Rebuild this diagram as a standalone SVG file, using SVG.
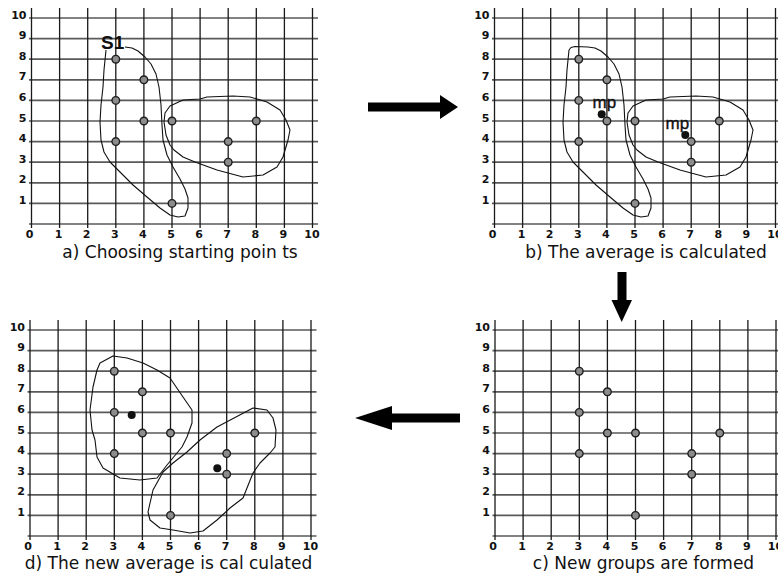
<svg xmlns="http://www.w3.org/2000/svg" xmlns:xlink="http://www.w3.org/1999/xlink" width="778" height="578" viewBox="0 0 778 578">
<style>
.hl{stroke:#5a5a5a;stroke-width:1.7;fill:none}
.vl{stroke:#1a1a1a;stroke-width:1.3;fill:none}
.num{font-family:"DejaVu Sans",Verdana,sans-serif;font-size:11px;font-weight:bold;fill:#111}
.cap{font-family:"DejaVu Sans",Verdana,sans-serif;font-size:17px;fill:#111;text-anchor:middle}
.lbl{font-family:"Liberation Sans",Arial,sans-serif;fill:#111}
.pt{fill:#8c8c8c;stroke:#1e1e1e;stroke-width:1.4}
.mean{fill:#111}
.curve{fill:none;stroke:#111;stroke-width:1.1;stroke-linejoin:round}
.arrow{fill:#000}
</style>
<defs>
<g id="grid">
<path class="hl" d="M29,224H318M29,203.4H318M29,182.8H318M29,162.2H318M29,141.6H318M29,121H318M29,100.4H318M29,79.8H318M29,59.2H318M29,38.6H318M29,18H318"/>
<path class="vl" d="M31.5,8V228M59.6,8V228M87.7,8V228M115.8,8V228M143.9,8V228M172,8V228M200.1,8V228M228.2,8V228M256.3,8V228M284.4,8V228M312.5,8V228"/>
<g class="num" text-anchor="end">
<text x="26.5" y="204">1</text><text x="26.5" y="183.3">2</text><text x="26.5" y="162.7">3</text><text x="26.5" y="142.1">4</text><text x="26.5" y="121.5">5</text><text x="26.5" y="100.9">6</text><text x="26.5" y="80.3">7</text><text x="26.5" y="59.7">8</text><text x="26.5" y="39.1">9</text><text x="26.5" y="18.5">10</text>
</g>
<g class="num" text-anchor="middle">
<text x="29.5" y="237.5">0</text><text x="58.6" y="237.5">1</text><text x="86.7" y="237.5">2</text><text x="114.8" y="237.5">3</text><text x="142.9" y="237.5">4</text><text x="171" y="237.5">5</text><text x="199.1" y="237.5">6</text><text x="227.2" y="237.5">7</text><text x="255.3" y="237.5">8</text><text x="283.4" y="237.5">9</text><text x="312" y="237.5">10</text>
</g>
</g>
<g id="pts">
<circle class="pt" cx="115.8" cy="59.2" r="3.8"/>
<circle class="pt" cx="143.9" cy="79.8" r="3.8"/>
<circle class="pt" cx="115.8" cy="100.4" r="3.8"/>
<circle class="pt" cx="143.9" cy="121" r="3.8"/>
<circle class="pt" cx="172" cy="121" r="3.8"/>
<circle class="pt" cx="256.3" cy="121" r="3.8"/>
<circle class="pt" cx="115.8" cy="141.6" r="3.8"/>
<circle class="pt" cx="228.2" cy="141.6" r="3.8"/>
<circle class="pt" cx="228.2" cy="162.2" r="3.8"/>
<circle class="pt" cx="172" cy="203.4" r="3.8"/>
</g>
<path id="c1open" d="M106,50 L104,70 103,87 101,105 100,122 101,140 104,152 110,162 120,172 133,185 147,197 160,208 170,215 178,217 185,216 188,208 188,198 185,189 180,179 173,167 167,155 163,140 162,125 161,105 159,87 156,74 151,64 145,57 138,51 132,48 125,47"/>
<path id="c2" d="M165,113 L170,106 183,100 200,99 207,97 233,96 250,97 267,102 280,110 286,120 290,130 288,140 283,157 277,167 263,175 243,177 217,170 195,162 183,157 174,150 170,145 166,135 164,122 Z"/>
</defs>

<g id="panel-a">
<use xlink:href="#grid"/>
<use xlink:href="#c1open" class="curve"/>
<use xlink:href="#c2" class="curve"/>
<use xlink:href="#pts"/>
<text class="lbl" x="101" y="49" font-size="19" font-weight="bold">S1</text>
<text class="cap" x="180" y="258">a) Choosing starting poin ts</text>
</g>

<g id="panel-b">
<use xlink:href="#grid" transform="translate(463,0)"/>
<g transform="translate(463,0)">
<use xlink:href="#c1open" class="curve"/>
<path class="curve" d="M125,47 L112,46.5 108,47.5 106,50"/>
<use xlink:href="#c2" class="curve"/>
<use xlink:href="#pts"/>
</g>
<text class="lbl" x="592.5" y="108" font-size="17" stroke="#111" stroke-width="0.35">mp</text>
<circle class="mean" cx="601.7" cy="114.3" r="4"/>
<text class="lbl" x="665.5" y="129" font-size="17" stroke="#111" stroke-width="0.35">mp</text>
<circle class="mean" cx="685.3" cy="135" r="4"/>
<text class="cap" x="646" y="258">b) The average is calculated</text>
</g>

<g id="panel-c">
<use xlink:href="#grid" transform="translate(463.5,312)"/>
<use xlink:href="#pts" transform="translate(463.5,312)"/>
<text class="cap" x="643.5" y="569">c) New groups are formed</text>
</g>

<g id="panel-d">
<use xlink:href="#grid" transform="translate(-1.5,312)"/>
<path class="curve" d="M113,356 L127,358 143,363 157,370 170,378 183,397 192,410 192,423 187,437 182,447 177,453 167,465 157,478 140,480 120,478 103,468 97,457 95,440 92,430 90,410 93,387 97,370 100,363 Z"/>
<path class="curve" d="M253,408 L267,410 273,418 276,430 275,447 270,453 260,463 253,473 243,498 230,508 217,520 203,531 190,533 173,530 160,528 150,520 148,512 153,490 163,472 173,463 187,452 200,440 217,427 Z"/>
<use xlink:href="#pts" transform="translate(-1.5,312)"/>
<circle class="mean" cx="131.7" cy="415" r="4"/>
<circle class="mean" cx="217.3" cy="468.3" r="4"/>
<text class="cap" x="168.5" y="569">d) The new average is cal culated</text>
</g>

<g id="connectors">
<polygon class="arrow" points="368,102.5 440,102.5 440,95 458,107 440,119 440,111.5 368,111.5"/>
<polygon class="arrow" points="617.5,272 626.5,272 626.5,300 632,300 621.7,322 611.5,300 617.5,300"/>
<polygon class="arrow" points="460,413.5 392,413.5 392,406 355,418 392,430 392,422.5 460,422.5"/>
</g>
</svg>
